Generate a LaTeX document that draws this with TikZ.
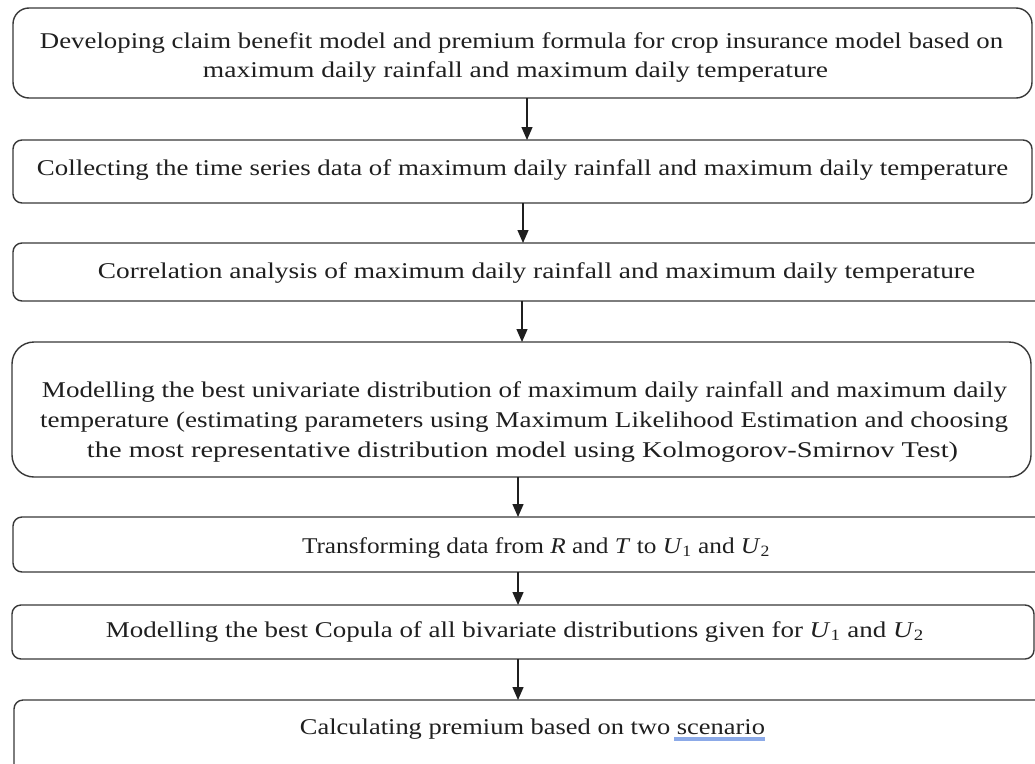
\documentclass[tikz,border=0pt]{standalone}
\usepackage{fontspec}
\setmainfont{Liberation Serif}
\usepackage{graphicx}
\usetikzlibrary{arrows.meta}
\newcommand{\fitline}[2]{\resizebox{#1pt}{\height}{#2}}
\begin{document}
\begin{tikzpicture}[x=1pt,y=-1pt,
  box/.style={draw=black!78, line width=1.4pt, fill=white, inner sep=0pt, outer sep=0pt},
  txt/.style={anchor=base, inner sep=0pt, font=\fontsize{22.5}{27}\selectfont, text=black!88},
  flow/.style={draw=black!88, line width=1.3pt, -{Triangle[length=13pt,width=11pt]}}
]
\useasboundingbox (0,0) rectangle (1035,763);
\fill[white] (0,0) rectangle (1035,763);
\begin{scope}
\clip (0,0) rectangle (1035,763);
% boxes
\node[box, rounded corners=16pt, minimum width=1019pt, minimum height=90pt] (b1) at (522.5,53) {};
\node[box, rounded corners=9pt, minimum width=1019pt, minimum height=63pt] (b2) at (522.5,171.5) {};
\node[box, rounded corners=9pt, minimum width=1037pt, minimum height=58pt] (b3) at (531.5,272) {};
\node[box, rounded corners=22pt, minimum width=1019pt, minimum height=135pt] (b4) at (521.5,409.5) {};
\node[box, rounded corners=9pt, minimum width=1037pt, minimum height=55pt] (b5) at (531.5,544.5) {};
\node[box, rounded corners=9pt, minimum width=1022pt, minimum height=54pt] (b6) at (523,632) {};
\node[box, rounded corners=9pt, minimum width=1036pt, minimum height=100pt] (b7) at (532,750) {};
% texts
\node[txt] (t1a) at (521.5,48) {\fitline{963}{Developing claim benefit model and premium formula for crop insurance model based on}};
\node[txt] (t1b) at (515.5,77) {\fitline{625}{maximum daily rainfall and maximum daily temperature}};
\node[txt] (t2) at (522.5,175) {\fitline{971}{Collecting the time series data of maximum daily rainfall and maximum daily temperature}};
\node[txt] (t3) at (536.5,278) {\fitline{877}{Correlation analysis of maximum daily rainfall and maximum daily temperature}};
\node[txt] (t4a) at (524.5,397) {\fitline{965}{Modelling the best univariate distribution of maximum daily rainfall and maximum daily}};
\node[txt] (t4b) at (524,427) {\fitline{968}{temperature (estimating parameters using Maximum Likelihood Estimation and choosing}};
\node[txt] (t4c) at (522.5,457) {\fitline{871}{the most representative distribution model using Kolmogorov-Smirnov Test)}};
\node[txt] (t5) at (536,553) {\fitline{468}{Transforming data from \textit{R} and \textit{T} to \textit{U}\textsubscript{1} and \textit{U}\textsubscript{2}}};
\node[txt] (t6) at (515,637) {\fitline{818}{Modelling the best Copula of all bivariate distributions given for \textit{U}\textsubscript{1} and \textit{U}\textsubscript{2}}};
\node[txt] (t7) at (532.5,734) {\fitline{465}{Calculating premium based on two scenario}};
% spell-check underline
\draw[draw={rgb,255:red,140;green,170;blue,232}, line width=3.5pt] (674,739) -- (765,739);
% arrow columns
\coordinate (x1) at (527,0);
\coordinate (x2) at (523,0);
\coordinate (x3) at (522,0);
\coordinate (x4) at (518,0);
% connectors
\draw[flow] (b1.south -| x1) -- (b2.north -| x1);
\draw[flow] (b2.south -| x2) -- (b3.north -| x2);
\draw[flow] (b3.south -| x3) -- (b4.north -| x3);
\draw[flow] (b4.south -| x4) -- (b5.north -| x4);
\draw[flow] (b5.south -| x4) -- (b6.north -| x4);
\draw[flow] (b6.south -| x4) -- (b7.north -| x4);
\end{scope}
\end{tikzpicture}
\end{document}
